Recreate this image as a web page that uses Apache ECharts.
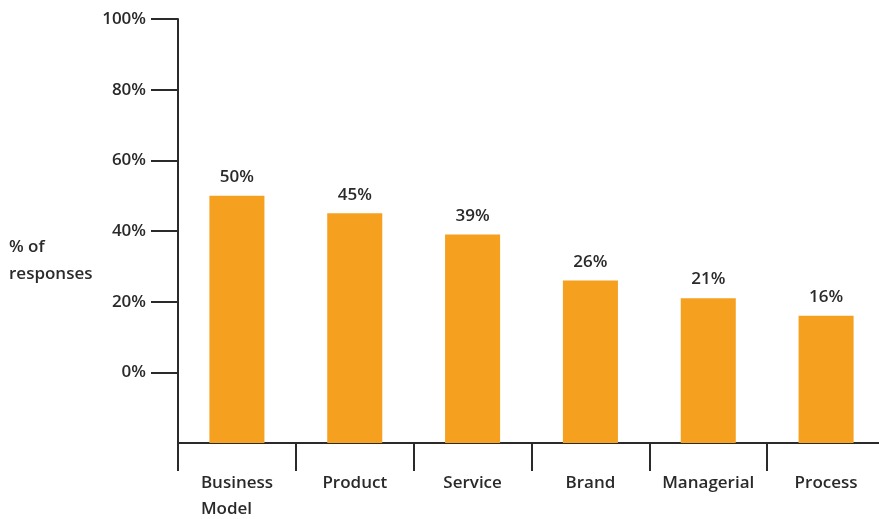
<!DOCTYPE html>
<html>
<head>
<meta charset="utf-8">
<script src="https://cdn.jsdelivr.net/npm/echarts@6/dist/echarts.min.js"></script>
<style>
  html, body { margin: 0; padding: 0; background: #fff; }
  #chart { width: 879px; height: 519px; }
</style>
</head>
<body>
<div id="chart"></div>
<script>
// Survey: type of innovation, share of responses
const categories = ['Business\nModel', 'Product', 'Service', 'Brand', 'Managerial', 'Process'];
const responses = [50, 45, 39, 26, 21, 16];
const yTicks = [0, 20, 40, 60, 80, 100];
const yMin = -20;
const yMax = 100;

const ink = '#2b2a2b';
const barColor = '#f5a01f';
const fontFamily = '"Open Sans", "DejaVu Sans", sans-serif';
const fontSize = 17;

const chart = echarts.init(document.getElementById('chart'), null, { renderer: 'canvas' });

// multi-line category names are set flush left inside a centred block
function categoryLabel(name) {
  const lines = name.split('\n');
  if (lines.length === 1) return name;
  return lines.map((l) => '{ml|' + l + '}').join('\n');
}

chart.setOption({
  backgroundColor: '#fff',
  animation: false,
  title: {
    text: '% of\nresponses',
    left: 9,
    top: 234,
    padding: 0,
    textStyle: { color: ink, fontFamily, fontSize, fontWeight: 600, lineHeight: 27 }
  },
  grid: { left: 178, right: -6, top: 19, bottom: 76, containLabel: false, outerBoundsMode: 'none' },
  xAxis: {
    type: 'category',
    data: categories,
    axisLine: { onZero: false, lineStyle: { color: ink, width: 2 } },
    axisTick: { show: true, length: 28, lineStyle: { color: ink, width: 2 } },
    axisLabel: {
      color: ink, fontFamily, fontSize, fontWeight: 600,
      margin: 27, lineHeight: 26, interval: 0,
      formatter: categoryLabel,
      rich: {
        ml: {
          width: 72, align: 'left', color: ink, fontFamily, fontSize,
          fontWeight: 600, lineHeight: 26
        }
      }
    }
  },
  yAxis: {
    type: 'value',
    min: yMin,
    max: yMax,
    interval: 20,
    splitLine: { show: false },
    axisLine: { show: true, lineStyle: { color: ink, width: 2 } },
    axisTick: { show: true, length: 27, customValues: yTicks, lineStyle: { color: ink, width: 2 } },
    axisLabel: {
      customValues: yTicks,
      color: ink, fontFamily, fontSize, fontWeight: 600, margin: 32,
      formatter: (v) => v + '%'
    }
  },
  series: [{
    type: 'custom',
    data: responses.map((v, i) => [i, v]),
    encode: { x: 0, y: 1 },
    renderItem: function (params, api) {
      const idx = api.value(0);
      const val = api.value(1);
      const topPt = api.coord([idx, val]);
      const basePt = api.coord([idx, yMin]);
      const w = api.size([1, 0])[0] * 0.467;
      return {
        type: 'rect',
        shape: { x: topPt[0] - w / 2, y: topPt[1], width: w, height: basePt[1] - topPt[1] },
        style: { fill: barColor },
        textContent: {
          style: { text: val + '%', fill: ink, fontFamily, fontSize, fontWeight: 600 }
        },
        textConfig: { position: 'top', distance: 10 }
      };
    }
  }]
});
</script>
</body>
</html>
